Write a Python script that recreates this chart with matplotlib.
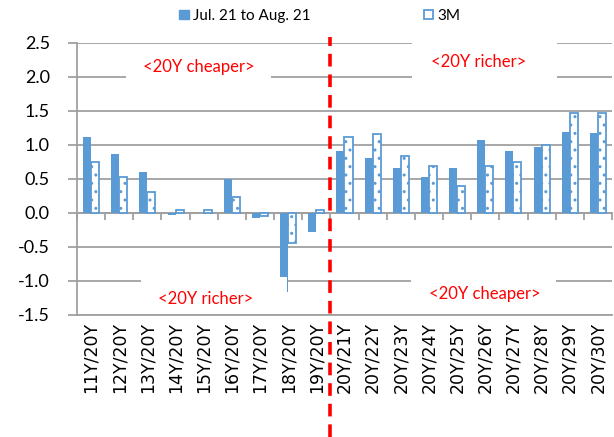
import numpy as np
import matplotlib.pyplot as plt
from matplotlib.patches import Patch, Rectangle

# ── data ─────────────────────────────────────────────────────────────
labels = ["11Y/20Y", "12Y/20Y", "13Y/20Y", "14Y/20Y", "15Y/20Y", "16Y/20Y",
          "17Y/20Y", "18Y/20Y", "19Y/20Y", "20Y/21Y", "20Y/22Y", "20Y/23Y",
          "20Y/24Y", "20Y/25Y", "20Y/26Y", "20Y/27Y", "20Y/28Y", "20Y/29Y",
          "20Y/30Y"]
jul_aug = [1.12, 0.87, 0.60, -0.04, 0.00, 0.50, -0.08, -1.17, -0.28,
           0.90, 0.80, 0.65, 0.53, 0.65, 1.07, 0.90, 0.97, 1.19, 1.17]
three_m = [0.74, 0.52, 0.30, 0.04, 0.04, 0.23, -0.05, -0.45, 0.04,
           1.11, 1.16, 0.84, 0.69, 0.39, 0.69, 0.74, 0.99, 1.46, 1.46]
yticks = [-1.5, -1.0, -0.5, 0.0, 0.5, 1.0, 1.5, 2.0, 2.5]

BLUE = "#5B9BD5"
GRID = "#a0a0a0"
plt.rcParams["font.family"] = ["Lato", "DejaVu Sans"]

fig = plt.figure(figsize=(6.14, 4.37), dpi=100)
ax = fig.add_axes([0.1254, 0.2799, 0.8713, 0.6224])

x = np.arange(len(labels))
w = 0.285
ax.bar(x - w / 2, jul_aug, w, color=BLUE, zorder=3)
ax.bar(x + w / 2, three_m, w, facecolor="white", edgecolor=BLUE,
       linewidth=1.3, hatch="..", zorder=3)

ax.set_xlim(-0.5, len(labels) - 0.5)
ax.set_ylim(-1.5, 2.5)
ax.set_yticks(yticks)
ax.set_yticklabels([f"{v:.1f}" for v in yticks], fontsize=13)
ax.yaxis.grid(True, color=GRID, linewidth=1.3, zorder=0)
ax.set_axisbelow(True)

for s in ["top", "right"]:
    ax.spines[s].set_visible(False)
ax.spines["left"].set_color(GRID)
ax.spines["left"].set_linewidth(1.3)
ax.spines["bottom"].set_color(GRID)
ax.spines["bottom"].set_linewidth(1.3)
ax.tick_params(axis="y", length=6.5, width=1.3, color=GRID, pad=13)

ax.set_xticks(x)
ax.set_xticklabels(labels, rotation=90, fontsize=12.5,
                   family=["DejaVu Sans"])
ax.tick_params(axis="x", length=0, pad=5)

# zero line with category-boundary ticks
zero = ax.secondary_xaxis(1.5 / 4.0)
zero.set_xticks(np.arange(len(labels) + 1) - 0.5)
zero.set_xticklabels([])
zero.tick_params(length=5, width=1.3, color=GRID)
zero.spines["bottom"].set_color(GRID)
zero.spines["bottom"].set_linewidth(1.3)

# red divider
ax.axvline(8.5, ymin=-0.45, ymax=1.02, color="red", linewidth=2.6,
           dashes=(3.5, 2.2), clip_on=False, zorder=5)

# annotation boxes (white, they hide gridlines and bars behind them)
notes = [
    ("<20Y cheaper>", 3.83, 2.14, (1.24, 1.80), 5.14, 0.59),
    ("<20Y richer>", 13.76, 2.22, (11.41, 1.98), 5.15, 0.58),
    ("<20Y richer>", 4.07, -1.27, (1.77, -1.43), 5.19, 0.49),
    ("<20Y cheaper>", 14.0, -1.20, (11.38, -1.43), 5.14, 0.51),
]
for txt, tx, ty, xy, bw, bh in notes:
    ax.add_patch(Rectangle(xy, bw, bh, facecolor="white", edgecolor="none",
                           zorder=6, clip_on=False))
    ax.text(tx, ty, txt, color="red", fontsize=12, ha="center", va="center",
            zorder=7)

legend = [Patch(facecolor=BLUE, edgecolor=BLUE, label="Jul. 21 to Aug. 21"),
          Patch(facecolor="white", edgecolor=BLUE, linewidth=1.3, label="3M")]
fig.legend(handles=legend, loc="center", bbox_to_anchor=(320 / 614, 1 - 16 / 437),
           ncol=2, frameon=False, fontsize=11, handlelength=0.6,
           handleheight=0.6, handletextpad=0.3, columnspacing=7.4)

fig.savefig("out.png", dpi=100)
